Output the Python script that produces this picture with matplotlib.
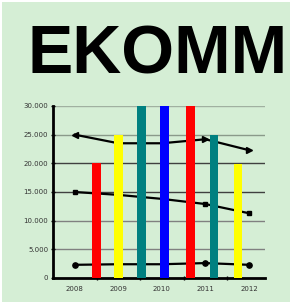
import matplotlib.pyplot as plt
from matplotlib.patches import Rectangle

years = ['2008', '2009', '2010', '2011', '2012']

# bars: position along the year axis (0 = 2008), height, colour
bar_pos = [0.5, 1.0, 1.53, 2.06, 2.66, 3.2, 3.75]
bar_vals = [20000, 25000, 30000, 30000, 30000, 25000, 19800]
bar_colors = ['#ff0000', '#ffff00', '#008080', '#0000ff', '#ff0000', '#008080', '#ffff00']

line_top = [25000, 23500, 23500, 24200, 22300]
line_mid = [15000, 14500, 13800, 12900, 11300]
line_low = [2300, 2400, 2400, 2600, 2300]

bg = '#d5eed5'

fig = plt.figure(figsize=(2.9, 3.02), dpi=100)
fig.patch.set_facecolor(bg)
# thin white strip on top and left edge
fig.patches.append(Rectangle((0, 1 - 2 / 302), 1, 2 / 302, transform=fig.transFigure,
                             facecolor='white', edgecolor='none', zorder=-10))
fig.patches.append(Rectangle((0, 0), 2 / 290, 1, transform=fig.transFigure,
                             facecolor='white', edgecolor='none', zorder=-10))

fig.text(0.545, 0.755, 'EKOMM', fontsize=49, fontweight='bold', family='Liberation Sans',
         ha='center', va='baseline', color='black')

ax = fig.add_axes([53 / 290, 1 - 278 / 302, 212 / 290, 172 / 302])
ax.set_facecolor('none')

xs = list(range(len(years)))
ax.plot(xs, line_low, color='black', lw=1.6, marker='o', markersize=3.8,
        markevery=[0, 3, 4], zorder=2)
ax.plot(xs, line_mid, color='black', lw=1.6, marker='s', markersize=3.2,
        markevery=[0, 3, 4], zorder=2)
ax.plot(xs, line_top, color='black', lw=1.6, zorder=2)
ax.plot([xs[0]], [line_top[0]], marker='<', color='black', markersize=5, zorder=2)
ax.plot([xs[3]], [line_top[3]], marker='>', color='black', markersize=5, zorder=2)
ax.plot([xs[4]], [line_top[4]], marker='>', color='black', markersize=5, zorder=2)

ax.bar(bar_pos, bar_vals, width=0.2, color=bar_colors, zorder=3, clip_on=False)

ax.set_ylim(0, 30000)
ax.set_xlim(-0.5, 4.37)
ax.set_yticks(range(0, 30001, 5000))
ax.set_yticklabels([f'{v:,}'.replace(',', '.') for v in range(0, 30001, 5000)],
                   fontsize=5, color='#333333')
ax.set_xticks(xs)
ax.set_xticklabels(years, fontsize=5, color='#333333')
ax.set_xticks([0.5, 1.5, 2.5, 3.5], minor=True)
ax.tick_params(axis='x', which='major', length=0, pad=6)
ax.tick_params(axis='x', which='minor', length=3, width=1, direction='inout')
ax.tick_params(axis='y', length=3, width=1, direction='inout', pad=2)

for v, c in zip(range(5000, 30001, 5000),
                ['#808080', '#808080', '#404040', '#404040', '#8a9a8a', '#a0b0a0']):
    ax.axhline(v, color=c, lw=1.0, zorder=1)

for s in ['top', 'right']:
    ax.spines[s].set_visible(False)
ax.spines['left'].set_linewidth(2)
ax.spines['bottom'].set_linewidth(2)

fig.savefig('out.png', dpi=100, facecolor=bg)
